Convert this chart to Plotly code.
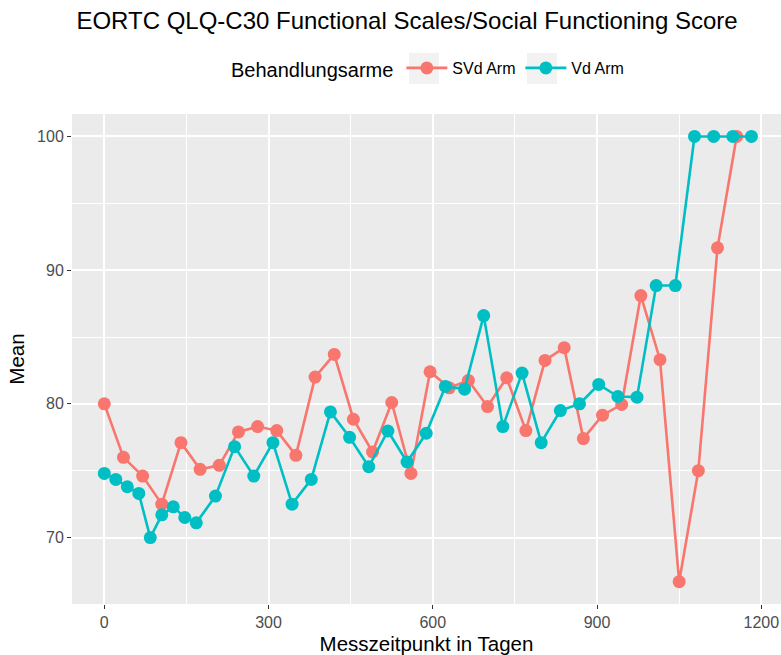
import plotly.graph_objects as go

# Mean social functioning score per assessment day, by treatment arm
svd_days = [0, 35, 70, 105, 140, 175, 210, 245, 280, 315, 350, 385, 420, 455,
            490, 525, 560, 595, 630, 665, 700, 735, 770, 805, 840, 875, 910,
            945, 980, 1015, 1050, 1085, 1120, 1155]
svd_mean = [80.0, 76.0, 74.6, 72.5, 77.1, 75.1, 75.4, 77.9, 78.3, 78.0, 76.15,
            82.0, 83.7, 78.85, 76.4, 80.1, 74.8, 82.4, 81.2, 81.75, 79.8,
            81.95, 78.0, 83.25, 84.2, 77.4, 79.15, 79.95, 88.1, 83.3, 66.7,
            75.0, 91.67, 100.0]

vd_days = [0, 21, 42, 63, 84, 105, 126, 147, 168, 203, 238, 273, 308, 343,
           378, 413, 448, 483, 518, 553, 588, 623, 658, 693, 728, 763, 798,
           833, 868, 903, 938, 973, 1008, 1043, 1078, 1113, 1148, 1182]
vd_mean = [74.8, 74.35, 73.8, 73.3, 70.0, 71.7, 72.3, 71.5, 71.1, 73.1, 76.8,
           74.6, 77.1, 72.5, 74.35, 79.4, 77.5, 75.3, 77.97, 75.65, 77.8, 81.3,
           81.1, 86.6, 78.3, 82.3, 77.1, 79.5, 80.0, 81.45, 80.55, 80.5,
           88.85, 88.85, 100.0, 100.0, 100.0, 100.0]

arm_names = ["SVd Arm", "Vd Arm"]
arm_colors = ["#F8766D", "#00BFC4"]

x_ticks = [0, 300, 600, 900, 1200]
y_ticks = [70, 80, 90, 100]

FONT = "Liberation Sans, Arial, sans-serif"

fig = go.Figure()
for name, color, days, vals in [(arm_names[0], arm_colors[0], svd_days, svd_mean),
                                (arm_names[1], arm_colors[1], vd_days, vd_mean)]:
    fig.add_trace(go.Scatter(
        x=days, y=vals, name=name, mode="lines+markers",
        line=dict(color=color, width=2.6),
        marker=dict(color=color, size=13),
    ))

# grey key backgrounds behind the legend symbols
for x0 in (409, 527):
    fig.add_shape(type="rect", xref="paper", yref="paper",
                  x0=(x0 - 72) / 709, x1=(x0 + 30 - 72) / 709,
                  y0=(604 - 84) / 490, y1=(604 - 53) / 490,
                  fillcolor="#F2F2F2", line=dict(width=0), layer="below")

fig.update_layout(
    width=781, height=655,
    margin=dict(l=72, r=0, t=114, b=51),
    paper_bgcolor="white",
    plot_bgcolor="#EBEBEB",
    font=dict(family=FONT, color="black"),
    title=dict(text="EORTC QLQ-C30 Functional Scales/Social Functioning Score",
               font=dict(size=24, color="black"),
               x=407 / 781, xanchor="center", y=1 - 21 / 655, yanchor="middle"),
    showlegend=True,
    legend=dict(
        orientation="h", x=(229 - 72) / 709, xanchor="left",
        y=(604 - 69) / 490, yanchor="middle",
        title=dict(text="Behandlungsarme", side="left",
                   font=dict(size=20, color="black")),
        font=dict(size=16, color="black"),
        bgcolor="rgba(0,0,0,0)", itemwidth=41,
        entrywidth=63, entrywidthmode="pixels",
    ),
    xaxis=dict(
        range=[-59, 1236], tickvals=x_ticks, ticktext=[str(v) for v in x_ticks],
        showgrid=True, gridcolor="white", gridwidth=1.5,
        minor=dict(showgrid=True, gridcolor="white", gridwidth=0.7,
                   tickvals=[150, 450, 750, 1050]),
        zeroline=False, showline=False,
        ticks="outside", ticklen=4, tickwidth=1.2, tickcolor="#333333",
        tickfont=dict(size=16, color="#4D4D4D"),
        title=dict(text="Messzeitpunkt in Tagen", font=dict(size=20.5, color="black"),
                   standoff=6),
    ),
    yaxis=dict(
        range=[65.03, 101.68], tickvals=y_ticks, ticktext=[str(v) for v in y_ticks],
        showgrid=True, gridcolor="white", gridwidth=1.5,
        minor=dict(showgrid=True, gridcolor="white", gridwidth=0.7,
                   tickvals=[75, 85, 95]),
        zeroline=False, showline=False,
        ticks="outside", ticklen=4, tickwidth=1.2, tickcolor="#333333",
        tickfont=dict(size=16, color="#4D4D4D"),
        title=dict(text="Mean", font=dict(size=20.5, color="black"), standoff=6),
    ),
)

fig.write_html("out.html")
